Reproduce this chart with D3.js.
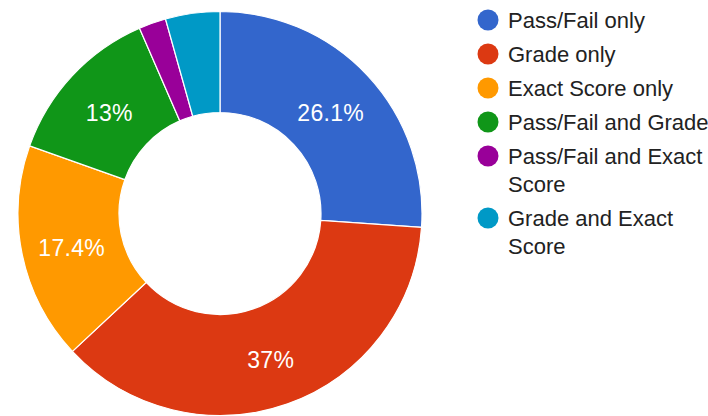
<!DOCTYPE html>
<html>
<head>
<meta charset="utf-8">
<script src="https://cdn.jsdelivr.net/npm/d3@7"></script>
<style>
	html, body { margin: 0; padding: 0; background: #fff; }
	svg { display: block; font-family: Arial, "Liberation Sans", sans-serif; }
</style>
</head>
<body>
<div id="chart"></div>
<script>

// Responses per grading option
var categories = ['Pass/Fail only', 'Grade only', 'Exact Score only', 'Pass/Fail and Grade', 'Pass/Fail and Exact Score', 'Grade and Exact Score'];
var counts = [12, 17, 8, 6, 1, 2];
var colors = ['#3366cc', '#dc3912', '#ff9900', '#109618', '#990099', '#0099c6'];

var width = 708;
var height = 416;

var cx = 220;
var cy = 213.5;
var outerR = 202;
var innerR = 101;

var svg = d3.select('#chart')
		.append('svg')
		.attr('width', width)
		.attr('height', height);

var total = d3.sum(counts);

var pie = d3.pie()
		.sort(null)
		.value(function (d) { return d; });

var arc = d3.arc()
		.innerRadius(innerR)
		.outerRadius(outerR);

var slices = svg.append('g')
		.attr('transform', 'translate(' + cx + ',' + cy + ')');

var arcs = pie(counts);

slices.selectAll('path')
		.data(arcs)
		.enter()
		.append('path')
		.attr('d', arc)
		.attr('fill', function (d, i) { return colors[i]; })
		.attr('stroke', '#fff')
		.attr('stroke-width', 1.2);

// Percent labels (only on slices big enough)
var fmt = function (v) {
	var p = Math.round(v / total * 1000) / 10;
	return p + '%';
};

slices.selectAll('text')
		.data(arcs.filter(function (d) { return d.value / total > 0.05; }))
		.enter()
		.append('text')
		.attr('transform', function (d) {
			var c = arc.centroid(d);
			return 'translate(' + c[0] + ',' + (c[1] + 3) + ')';
		})
		.attr('text-anchor', 'middle')
		.attr('dy', '0.36em')
		.attr('font-size', '23px')
		.attr('letter-spacing', '0.3px')
		.attr('fill', '#fff')
		.text(function (d) { return fmt(d.value); });

// Legend
var legendX = 488;
var textX = 508;
var maxText = 212;
var lineH = 28;
var rowGap = 34;

var legend = svg.append('g');
var y = 20;

categories.forEach(function (name, i) {

	var row = legend.append('g');

	row.append('circle')
		.attr('cx', legendX)
		.attr('cy', y)
		.attr('r', 10.5)
		.attr('fill', colors[i]);

	var text = row.append('text')
		.attr('x', textX)
		.attr('y', y)
		.attr('dy', '0.36em')
		.attr('font-size', '22px')
		.attr('fill', '#222');

	// simple word wrap
	var words = name.split(' ');
	var line = [];
	var tspan = text.append('tspan').attr('x', textX);
	var lines = 1;

	words.forEach(function (w) {
		line.push(w);
		tspan.text(line.join(' '));
		if (tspan.node().getComputedTextLength() > maxText && line.length > 1) {
			line.pop();
			tspan.text(line.join(' '));
			line = [w];
			tspan = text.append('tspan')
				.attr('x', textX)
				.attr('dy', lineH)
				.text(w);
			lines++;
		}
	});

	y += rowGap + (lines - 1) * lineH;
});

</script>
</body>
</html>
